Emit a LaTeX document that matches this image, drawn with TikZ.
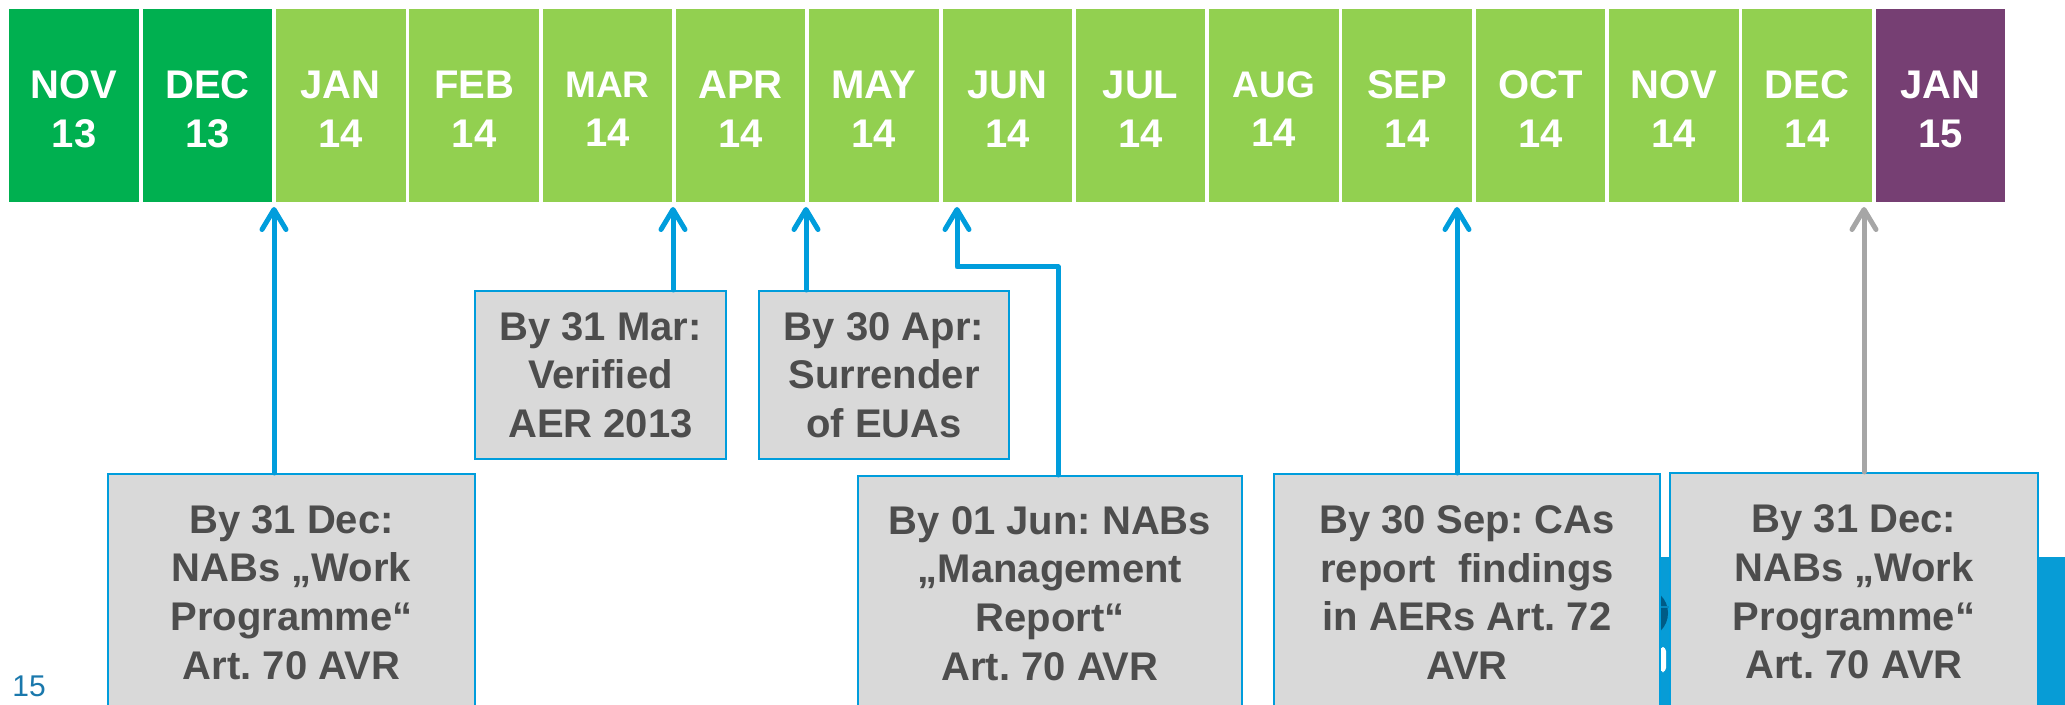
\documentclass[tikz,border=0pt]{standalone}
\usepackage{fontspec}
\setmainfont{Liberation Sans}
\usetikzlibrary{arrows.meta,calc}
\definecolor{dkgreen}{HTML}{00B050}
\definecolor{ltgreen}{HTML}{92D050}
\definecolor{plum}{HTML}{763F73}
\definecolor{boxfill}{HTML}{D9D9D9}
\definecolor{boxline}{HTML}{009DDC}
\definecolor{txtgray}{HTML}{4D4D4D}
\definecolor{arrowgray}{HTML}{A6A6A6}
\definecolor{logoblue}{HTML}{079CD6}
\definecolor{logodark}{HTML}{005B86}
\definecolor{pgnum}{HTML}{1A78AC}
\frenchspacing
\begin{document}
\begin{tikzpicture}[x=0.5pt,y=-0.5pt,
  month/.style={minimum width=64.75pt, minimum height=96.5pt, inner sep=0pt, anchor=north west},
  monthtext/.style={font=\bfseries\fontsize{20}{24.5}\selectfont, text=white, align=center, inner sep=0pt},
  infobox/.style={draw=boxline, line width=1pt, fill=boxfill, text=txtgray,
    font=\bfseries\fontsize{20}{24.3}\selectfont, align=center, inner sep=0pt, anchor=north west},
  conn/.style={draw=boxline, line width=2.5pt, line join=round, line cap=round,
    -{Straight Barb[length=10pt,width=12pt,round]}},
  conngray/.style={conn, draw=arrowgray}
]
\useasboundingbox (0,0) rectangle (2065,705);
\clip (0,0) rectangle (2065,705);

% background logo fragments
\fill[logoblue] (1400,557) rectangle (2065,705);
\fill[logodark] (1643,613) circle (25);
\draw[logoblue!70!logodark, line width=0.6pt] (1618,607) -- (1670,607);
\fill[white, rounded corners=2pt] (1660,647) rectangle (1666,672);

% month bar
\foreach \m/\yy/\c/\fs [count=\i from 0] in {NOV/13/dkgreen/20, DEC/13/dkgreen/20,
  JAN/14/ltgreen/20, FEB/14/ltgreen/20, MAR/14/ltgreen/18.5, APR/14/ltgreen/20,
  MAY/14/ltgreen/20, JUN/14/ltgreen/20, JUL/14/ltgreen/20, AUG/14/ltgreen/18.5,
  SEP/14/ltgreen/20, OCT/14/ltgreen/20, NOV/14/ltgreen/20, DEC/14/ltgreen/20, JAN/15/plum/20}
{
  \node[month, fill=\c] (m\i) at ({9+133.3*\i},9) {};
  \node[monthtext] (l\i) at ([yshift=-1.6pt]m\i.center) {{\fontsize{\fs}{24.5}\selectfont\m}\\\yy};
}

% arrow targets below the bar
\coordinate (tA) at (274,207);
\coordinate (tB) at (673,207);
\coordinate (tC) at (806,207);
\coordinate (tD) at (957,207);
\coordinate (bD) at (957,267);
\coordinate (tE) at (1457,207);
\coordinate (tF) at (1864,207);

% boxes
\node[infobox, minimum width=183.5pt, minimum height=118.5pt] (A) at (107,473)
  {By 31 Dec:\\NABs „Work\\Programme“\\Art. 70 AVR};
\node[infobox, minimum width=125.5pt, minimum height=84pt] (B) at (474,290)
  {By 31 Mar:\\Verified\\AER 2013};
\node[infobox, minimum width=125pt, minimum height=84pt] (C) at (758,290)
  {By 30 Apr:\\Surrender\\of EUAs};
\node[infobox, minimum width=192pt, minimum height=117.5pt] (D) at (857,475)
  {By 01 Jun: NABs\\„Management\\Report“\\Art. 70 AVR};
\node[infobox, minimum width=193pt, minimum height=118.5pt] (E) at (1273,473)
  {By 30 Sep: CAs\\report~ findings\\in AERs Art. 72\\AVR};
\node[infobox, minimum width=184pt, minimum height=119pt] (F) at (1669,472)
  {By 31 Dec:\\NABs „Work\\Programme“\\Art. 70 AVR};

% connectors
\draw[conn] (A.north -| tA) -- (tA);
\draw[conn] (B.north -| tB) -- (tB);
\draw[conn] (C.north -| tC) -- (tC);
\draw[conn] ([xshift=4pt]D.north) |- (bD) -- (tD);
\draw[conn] (E.north -| tE) -- (tE);
\draw[conngray] (F.north -| tF) -- (tF);

% page number
\node[font=\fontsize{15}{15}\selectfont, text=pgnum, anchor=base west, inner sep=0pt] (pg) at (12,696) {15};
\end{tikzpicture}
\end{document}
